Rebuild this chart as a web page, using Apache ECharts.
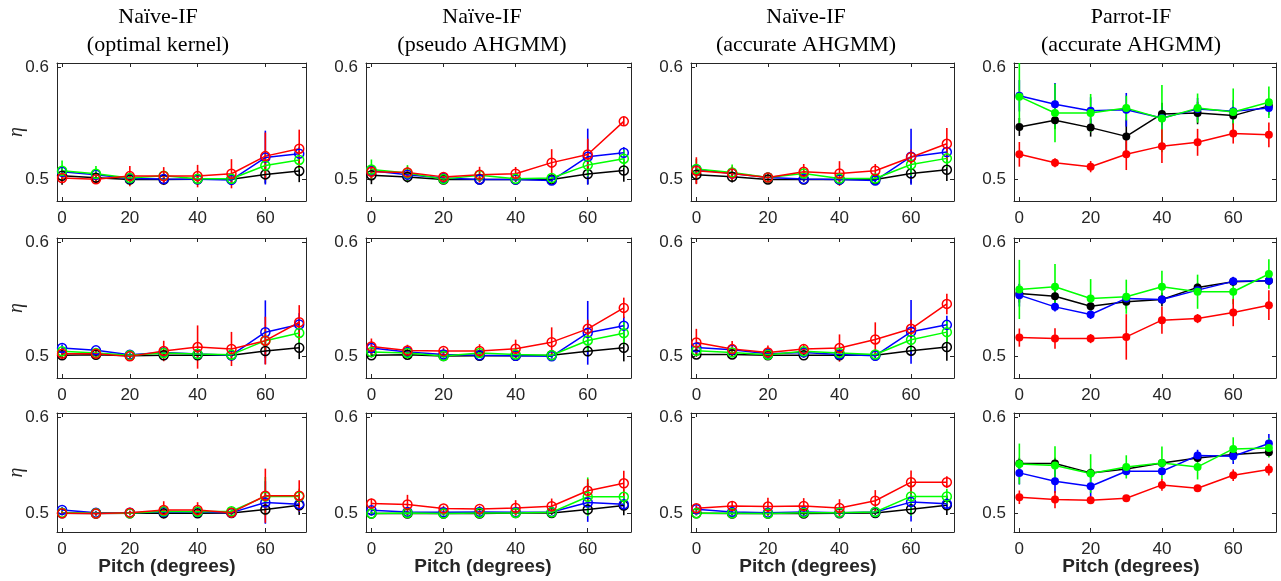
<!DOCTYPE html>
<html><head><meta charset="utf-8">
<script src="https://cdn.jsdelivr.net/npm/echarts@6/dist/echarts.min.js"></script>
<style>html,body{margin:0;padding:0;background:#fff}#c{width:1281px;height:581px}</style>
</head><body><div id="c"></div><script>
// ---------- data ----------
const pitch = [0, 10, 20, 30, 40, 50, 60, 70];
const xTicks = [0, 20, 40, 60];
const yTicks = [0.5, 0.6];
const titleLine1 = ['Naïve-IF', 'Naïve-IF', 'Naïve-IF', 'Parrot-IF'];
const titleLine2 = ['(optimal kernel)', '(pseudo AHGMM)', '(accurate AHGMM)', '(accurate AHGMM)'];
const xLabelText = 'Pitch (degrees)';
const yLabelText = 'η';

// row 1
const r1c1_k = [0.5035, 0.5018, 0.5002, 0.5002, 0.5004, 0.5004, 0.5047, 0.5078];
const r1c1_b = [0.5070, 0.5045, 0.5010, 0.5005, 0.5003, 0.4998, 0.5197, 0.5232];
const r1c1_g = [0.5080, 0.5053, 0.5015, 0.5035, 0.5008, 0.5008, 0.5126, 0.5176];
const r1c1_r = [0.5015, 0.5003, 0.5032, 0.5032, 0.5032, 0.5053, 0.5210, 0.5276];
const r1c1_k_e = [0.008, 0.004, 0.003, 0.003, 0.003, 0.003, 0.008, 0.010];
const r1c1_b_e = [0.004, 0.003, 0.002, 0.002, 0.002, 0.002, 0.024, 0.006];
const r1c1_g_e = [0.009, 0.007, 0.003, 0.003, 0.002, 0.002, 0.010, 0.008];
const r1c1_r_e = [0.004, 0.003, 0.009, 0.008, 0.010, 0.013, 0.021, 0.017];

const r1c2_k = [0.5040, 0.5025, 0.5002, 0.5002, 0.5002, 0.5002, 0.5050, 0.5082];
const r1c2_b = [0.5080, 0.5045, 0.5015, 0.5002, 0.5002, 0.4992, 0.5205, 0.5240];
const r1c2_g = [0.5090, 0.5060, 0.5005, 0.5040, 0.5008, 0.5015, 0.5130, 0.5187];
const r1c2_r = [0.5070, 0.5065, 0.5025, 0.5045, 0.5053, 0.5152, 0.5225, 0.5520];
const r1c2_k_e = [0.008, 0.005, 0.002, 0.002, 0.002, 0.002, 0.009, 0.010];
const r1c2_b_e = [0.004, 0.003, 0.002, 0.002, 0.002, 0.002, 0.025, 0.005];
const r1c2_g_e = [0.009, 0.007, 0.003, 0.003, 0.002, 0.002, 0.010, 0.008];
const r1c2_r_e = [0.006, 0.005, 0.003, 0.007, 0.006, 0.012, 0.014, 0.004];

const r1c3_k = [0.5045, 0.5026, 0.5002, 0.5002, 0.5002, 0.5002, 0.5055, 0.5088];
const r1c3_b = [0.5090, 0.5055, 0.5020, 0.5006, 0.5002, 0.4992, 0.5205, 0.5246];
const r1c3_g = [0.5095, 0.5065, 0.5020, 0.5055, 0.5010, 0.5010, 0.5135, 0.5190];
const r1c3_r = [0.5080, 0.5055, 0.5020, 0.5070, 0.5055, 0.5080, 0.5200, 0.5320];
const r1c3_k_e = [0.008, 0.005, 0.002, 0.002, 0.002, 0.002, 0.009, 0.010];
const r1c3_b_e = [0.004, 0.003, 0.002, 0.002, 0.002, 0.002, 0.025, 0.005];
const r1c3_g_e = [0.009, 0.007, 0.003, 0.003, 0.002, 0.002, 0.010, 0.008];
const r1c3_r_e = [0.012, 0.006, 0.003, 0.007, 0.011, 0.006, 0.007, 0.014];

const r1c4_k = [0.5470, 0.5530, 0.5464, 0.5386, 0.5586, 0.5594, 0.5571, 0.5658];
const r1c4_b = [0.5748, 0.5672, 0.5615, 0.5623, 0.5550, 0.5629, 0.5609, 0.5638];
const r1c4_g = [0.5740, 0.5594, 0.5594, 0.5638, 0.5545, 0.5638, 0.5603, 0.5690];
const r1c4_r = [0.5226, 0.5151, 0.5116, 0.5226, 0.5299, 0.5333, 0.5412, 0.5400];
const r1c4_k_e = [0.008, 0.008, 0.008, 0.015, 0.010, 0.010, 0.008, 0.006];
const r1c4_b_e = [0.014, 0.019, 0.012, 0.015, 0.010, 0.010, 0.010, 0.006];
const r1c4_g_e = [0.030, 0.026, 0.017, 0.011, 0.030, 0.013, 0.021, 0.014];
const r1c4_r_e = [0.011, 0.004, 0.005, 0.014, 0.015, 0.012, 0.009, 0.011];

// row 2
const r2c1_k = [0.5010, 0.5015, 0.5005, 0.5010, 0.5010, 0.5010, 0.5047, 0.5076];
const r2c1_b = [0.5074, 0.5053, 0.5015, 0.5035, 0.5020, 0.5010, 0.5212, 0.5280];
const r2c1_g = [0.5044, 0.5030, 0.5010, 0.5030, 0.5020, 0.5015, 0.5138, 0.5206];
const r2c1_r = [0.5024, 0.5024, 0.5000, 0.5047, 0.5082, 0.5065, 0.5138, 0.5300];
const r2c1_k_e = [0.003, 0.002, 0.002, 0.002, 0.002, 0.002, 0.006, 0.010];
const r2c1_b_e = [0.003, 0.002, 0.002, 0.002, 0.002, 0.002, 0.028, 0.010];
const r2c1_g_e = [0.003, 0.002, 0.002, 0.002, 0.002, 0.002, 0.010, 0.010];
const r2c1_r_e = [0.003, 0.003, 0.002, 0.009, 0.019, 0.015, 0.021, 0.015];

const r2c2_k = [0.5010, 0.5015, 0.5003, 0.5006, 0.5006, 0.5010, 0.5044, 0.5076];
const r2c2_b = [0.5073, 0.5038, 0.5017, 0.5010, 0.5006, 0.5000, 0.5207, 0.5270];
const r2c2_g = [0.5038, 0.5030, 0.5003, 0.5030, 0.5017, 0.5010, 0.5140, 0.5204];
const r2c2_r = [0.5087, 0.5052, 0.5047, 0.5047, 0.5067, 0.5125, 0.5242, 0.5426];
const r2c2_k_e = [0.002, 0.002, 0.002, 0.002, 0.002, 0.002, 0.005, 0.012];
const r2c2_b_e = [0.003, 0.002, 0.002, 0.002, 0.002, 0.002, 0.028, 0.008];
const r2c2_g_e = [0.003, 0.002, 0.002, 0.002, 0.002, 0.002, 0.010, 0.010];
const r2c2_r_e = [0.007, 0.005, 0.003, 0.006, 0.008, 0.013, 0.008, 0.009];

const r2c3_k = [0.5017, 0.5017, 0.5009, 0.5010, 0.5010, 0.5010, 0.5050, 0.5082];
const r2c3_b = [0.5079, 0.5058, 0.5023, 0.5035, 0.5017, 0.5006, 0.5216, 0.5277];
const r2c3_g = [0.5050, 0.5035, 0.5015, 0.5044, 0.5030, 0.5017, 0.5146, 0.5213];
const r2c3_r = [0.5122, 0.5064, 0.5035, 0.5064, 0.5073, 0.5149, 0.5242, 0.5461];
const r2c3_k_e = [0.002, 0.002, 0.002, 0.002, 0.002, 0.002, 0.005, 0.012];
const r2c3_b_e = [0.003, 0.002, 0.002, 0.002, 0.002, 0.002, 0.028, 0.008];
const r2c3_g_e = [0.003, 0.002, 0.002, 0.002, 0.002, 0.002, 0.010, 0.010];
const r2c3_r_e = [0.012, 0.007, 0.006, 0.004, 0.012, 0.015, 0.008, 0.009];

const r2c4_k = [0.5553, 0.5529, 0.5441, 0.5479, 0.5500, 0.5606, 0.5656, 0.5665];
const r2c4_b = [0.5538, 0.5435, 0.5368, 0.5509, 0.5500, 0.5582, 0.5659, 0.5665];
const r2c4_g = [0.5588, 0.5612, 0.5509, 0.5524, 0.5612, 0.5568, 0.5568, 0.5724];
const r2c4_r = [0.5165, 0.5156, 0.5156, 0.5171, 0.5318, 0.5332, 0.5385, 0.5450];
const r2c4_k_e = [0.008, 0.006, 0.004, 0.006, 0.006, 0.004, 0.004, 0.004];
const r2c4_b_e = [0.010, 0.004, 0.004, 0.004, 0.004, 0.004, 0.004, 0.004];
const r2c4_g_e = [0.026, 0.020, 0.017, 0.015, 0.014, 0.015, 0.011, 0.013];
const r2c4_r_e = [0.008, 0.009, 0.004, 0.020, 0.012, 0.004, 0.012, 0.013];

// row 3
const r3c1_k = [0.5003, 0.5000, 0.5003, 0.5003, 0.5003, 0.5007, 0.5042, 0.5087];
const r3c1_b = [0.5038, 0.5010, 0.5010, 0.5017, 0.5017, 0.5010, 0.5115, 0.5098];
const r3c1_g = [0.5010, 0.5003, 0.5003, 0.5024, 0.5020, 0.5024, 0.5178, 0.5178];
const r3c1_r = [0.5003, 0.5000, 0.5010, 0.5038, 0.5038, 0.5010, 0.5185, 0.5185];
const r3c1_k_e = [0.002, 0.002, 0.002, 0.002, 0.002, 0.002, 0.005, 0.010];
const r3c1_b_e = [0.003, 0.002, 0.002, 0.002, 0.002, 0.002, 0.022, 0.008];
const r3c1_g_e = [0.002, 0.002, 0.002, 0.002, 0.002, 0.002, 0.020, 0.008];
const r3c1_r_e = [0.002, 0.002, 0.002, 0.009, 0.008, 0.002, 0.028, 0.016];

const r3c2_k = [0.5000, 0.5000, 0.5000, 0.5000, 0.5007, 0.5007, 0.5042, 0.5083];
const r3c2_b = [0.5035, 0.5017, 0.5014, 0.5017, 0.5014, 0.5017, 0.5115, 0.5097];
const r3c2_g = [0.5000, 0.5007, 0.5000, 0.5007, 0.5007, 0.5014, 0.5174, 0.5174];
const r3c2_r = [0.5104, 0.5094, 0.5052, 0.5049, 0.5059, 0.5076, 0.5236, 0.5313];
const r3c2_k_e = [0.002, 0.002, 0.002, 0.002, 0.002, 0.002, 0.005, 0.010];
const r3c2_b_e = [0.003, 0.002, 0.002, 0.002, 0.002, 0.002, 0.020, 0.006];
const r3c2_g_e = [0.002, 0.002, 0.002, 0.002, 0.002, 0.002, 0.020, 0.008];
const r3c2_r_e = [0.005, 0.010, 0.003, 0.003, 0.008, 0.008, 0.012, 0.013];

const r3c3_k = [0.5003, 0.5000, 0.5000, 0.5000, 0.5003, 0.5007, 0.5045, 0.5087];
const r3c3_b = [0.5045, 0.5017, 0.5010, 0.5017, 0.5010, 0.5017, 0.5119, 0.5101];
const r3c3_g = [0.5003, 0.5003, 0.5000, 0.5010, 0.5010, 0.5017, 0.5178, 0.5178];
const r3c3_r = [0.5056, 0.5080, 0.5073, 0.5080, 0.5059, 0.5133, 0.5325, 0.5325];
const r3c3_k_e = [0.002, 0.002, 0.002, 0.002, 0.002, 0.002, 0.005, 0.010];
const r3c3_b_e = [0.003, 0.002, 0.002, 0.002, 0.002, 0.002, 0.020, 0.006];
const r3c3_g_e = [0.002, 0.002, 0.002, 0.002, 0.002, 0.002, 0.020, 0.008];
const r3c3_r_e = [0.003, 0.005, 0.009, 0.008, 0.009, 0.011, 0.012, 0.006];

const r3c4_k = [0.5517, 0.5517, 0.5421, 0.5462, 0.5524, 0.5576, 0.5610, 0.5634];
const r3c4_b = [0.5421, 0.5334, 0.5283, 0.5438, 0.5438, 0.5600, 0.5593, 0.5724];
const r3c4_g = [0.5514, 0.5497, 0.5414, 0.5483, 0.5524, 0.5483, 0.5669, 0.5679];
const r3c4_r = [0.5169, 0.5145, 0.5138, 0.5159, 0.5297, 0.5262, 0.5397, 0.5455];
const r3c4_k_e = [0.006, 0.006, 0.005, 0.004, 0.004, 0.004, 0.004, 0.004];
const r3c4_b_e = [0.012, 0.012, 0.012, 0.004, 0.004, 0.006, 0.008, 0.010];
const r3c4_g_e = [0.021, 0.020, 0.020, 0.012, 0.017, 0.013, 0.012, 0.010];
const r3c4_r_e = [0.007, 0.009, 0.003, 0.003, 0.006, 0.003, 0.006, 0.006];

const panelValues = [
  [[r1c1_k, r1c1_b, r1c1_g, r1c1_r], [r1c2_k, r1c2_b, r1c2_g, r1c2_r], [r1c3_k, r1c3_b, r1c3_g, r1c3_r], [r1c4_k, r1c4_b, r1c4_g, r1c4_r]],
  [[r2c1_k, r2c1_b, r2c1_g, r2c1_r], [r2c2_k, r2c2_b, r2c2_g, r2c2_r], [r2c3_k, r2c3_b, r2c3_g, r2c3_r], [r2c4_k, r2c4_b, r2c4_g, r2c4_r]],
  [[r3c1_k, r3c1_b, r3c1_g, r3c1_r], [r3c2_k, r3c2_b, r3c2_g, r3c2_r], [r3c3_k, r3c3_b, r3c3_g, r3c3_r], [r3c4_k, r3c4_b, r3c4_g, r3c4_r]]
];
const panelErrors = [
  [[r1c1_k_e, r1c1_b_e, r1c1_g_e, r1c1_r_e], [r1c2_k_e, r1c2_b_e, r1c2_g_e, r1c2_r_e], [r1c3_k_e, r1c3_b_e, r1c3_g_e, r1c3_r_e], [r1c4_k_e, r1c4_b_e, r1c4_g_e, r1c4_r_e]],
  [[r2c1_k_e, r2c1_b_e, r2c1_g_e, r2c1_r_e], [r2c2_k_e, r2c2_b_e, r2c2_g_e, r2c2_r_e], [r2c3_k_e, r2c3_b_e, r2c3_g_e, r2c3_r_e], [r2c4_k_e, r2c4_b_e, r2c4_g_e, r2c4_r_e]],
  [[r3c1_k_e, r3c1_b_e, r3c1_g_e, r3c1_r_e], [r3c2_k_e, r3c2_b_e, r3c2_g_e, r3c2_r_e], [r3c3_k_e, r3c3_b_e, r3c3_g_e, r3c3_r_e], [r3c4_k_e, r3c4_b_e, r3c4_g_e, r3c4_r_e]]
];

// ---------- layout / style ----------
const colors = ['#000000', '#0000ff', '#00ff00', '#ff0000'];
const colLeft = [57, 366, 691, 1014];
const colW = [249, 265, 263, 262];
const rowTop = [63, 238, 413];
const rowH = [138, 140, 119];
const titleX = [158, 482, 806, 1131];
const xlabX = [167, 483, 808, 1131];
const X_MIN = -1.5, X_MAX = 72, Y_MIN = 0.481, Y_MAX = 0.604;
const AX = '#262626';
const SANS = '"Liberation Sans", Arial, Helvetica, sans-serif';
const SERIF = '"Liberation Serif", "Times New Roman", serif';

function renderErr(params, api) {
  const x = api.value(0);
  const a = api.coord([x, api.value(1)]);
  const b = api.coord([x, api.value(2)]);
  const cs = params.coordSys;
  const t = cs.y, bt = cs.y + cs.height;
  const ya = Math.max(t, Math.min(bt, a[1]));
  const yb = Math.max(t, Math.min(bt, b[1]));
  return { type: 'line', shape: { x1: a[0], y1: ya, x2: a[0], y2: yb },
           style: { stroke: api.visual('color'), lineWidth: 1.6 } };
}

const grid = [], xAxis = [], yAxis = [], series = [], graphic = [];
for (let r = 0; r < 3; r++) {
  for (let c = 0; c < 4; c++) {
    const gi = grid.length;
    grid.push({ left: colLeft[c], top: rowTop[r], width: colW[c], height: rowH[r], show: false, containLabel: false });
    const lineS = { show: true, onZero: false, lineStyle: { color: AX, width: 1 } };
    xAxis.push({ type: 'value', gridIndex: gi, position: 'bottom', min: X_MIN, max: X_MAX,
      axisLine: lineS, splitLine: { show: false },
      axisTick: { show: true, inside: true, length: 4, customValues: xTicks, lineStyle: { color: AX } },
      axisLabel: { show: true, customValues: xTicks, color: AX, fontSize: 17, fontFamily: SANS, margin: 9 } });
    xAxis.push({ type: 'value', gridIndex: gi, position: 'top', min: X_MIN, max: X_MAX,
      axisLine: lineS, splitLine: { show: false },
      axisTick: { show: true, inside: true, length: 4, customValues: xTicks, lineStyle: { color: AX } },
      axisLabel: { show: false } });
    yAxis.push({ type: 'value', gridIndex: gi, position: 'left', min: Y_MIN, max: Y_MAX,
      axisLine: lineS, splitLine: { show: false },
      axisTick: { show: true, inside: true, length: 4, customValues: yTicks, lineStyle: { color: AX } },
      axisLabel: { show: true, customValues: yTicks, color: AX, fontSize: 17, fontFamily: SANS, margin: 8,
                   formatter: v => v.toFixed(1) } });
    yAxis.push({ type: 'value', gridIndex: gi, position: 'right', min: Y_MIN, max: Y_MAX,
      axisLine: lineS, splitLine: { show: false },
      axisTick: { show: true, inside: true, length: 4, customValues: yTicks, lineStyle: { color: AX } },
      axisLabel: { show: false } });

    const filled = (c === 3);
    for (let s = 0; s < 4; s++) {
      const v = panelValues[r][c][s], e = panelErrors[r][c][s];
      series.push({ type: 'custom', xAxisIndex: 2 * gi, yAxisIndex: 2 * gi, silent: true,
        itemStyle: { color: colors[s] }, renderItem: renderErr,
        encode: { x: 0, y: [1, 2] },
        data: pitch.map((x, j) => [x, v[j] - e[j], v[j] + e[j]]) });
      series.push({ type: 'line', xAxisIndex: 2 * gi, yAxisIndex: 2 * gi, silent: true,
        symbol: 'circle', symbolSize: filled ? 8 : 9, showSymbol: true,
        lineStyle: { color: colors[s], width: 1.5 },
        itemStyle: filled ? { color: colors[s] } : { color: 'rgba(0,0,0,0)', borderColor: colors[s], borderWidth: 1.5 },
        emphasis: { disabled: true },
        data: pitch.map((x, j) => [x, v[j]]) });
    }
  }
  // y-axis label η for the first column of this row
  graphic.push({ type: 'text', x: 17, y: rowTop[r] + rowH[r] / 2, rotation: Math.PI / 2,
    style: { text: yLabelText, align: 'center', verticalAlign: 'middle',
      fontFamily: SERIF, fontStyle: 'italic', fontSize: 20, fill: AX } });
}
for (let c = 0; c < 4; c++) {
  graphic.push({ type: 'text', x: titleX[c], y: 17, style: { text: titleLine1[c], align: 'center', verticalAlign: 'middle',
    fontFamily: SERIF, fontSize: 22, fill: '#000' } });
  graphic.push({ type: 'text', x: titleX[c], y: 45, style: { text: titleLine2[c], align: 'center', verticalAlign: 'middle',
    fontFamily: SERIF, fontSize: 22, fill: '#000' } });
  graphic.push({ type: 'text', x: xlabX[c], y: 567, style: { text: xLabelText, align: 'center', verticalAlign: 'middle',
    fontFamily: SANS, fontSize: 19, fontWeight: 'bold', fill: AX } });
}

const chart = echarts.init(document.getElementById('c'), null, { renderer: 'canvas' });
chart.setOption({ animation: false, backgroundColor: '#ffffff', grid, xAxis, yAxis, series, graphic });
</script></body></html>
